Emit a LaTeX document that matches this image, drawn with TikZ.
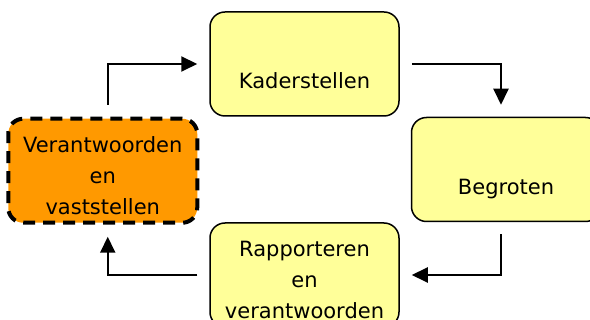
\documentclass[tikz,border=0pt]{standalone}
\usepackage{fontspec}
\setmainfont{DejaVu Sans}
\usetikzlibrary{positioning, arrows.meta}
\definecolor{lichtgeel}{HTML}{FFFF99}
\definecolor{oranje}{HTML}{FF9900}
\begin{document}
\begin{tikzpicture}[x=1pt, y=-1pt,
        stap/.style={draw, line width=1.5pt, fill=lichtgeel, rounded corners=15pt, minimum width=189pt, minimum height=104pt, inner sep=0pt, align=center, font=\fontsize{21}{31}\selectfont},
        actief/.style={stap, fill=oranje, line width=4pt, dash pattern=on 12pt off 8pt},
        pijl/.style={line width=2pt, -{Triangle[length=16pt, width=15pt]}, shorten <=12pt, shorten >=12pt}]
        \useasboundingbox (0,0) rectangle (590,320);
        \clip (0,0) rectangle (590,320);
        \node[stap, text height=50pt, text depth=0pt] (kader) at (304.5,64) {Kaderstellen};
        \node[stap, text height=50pt, text depth=0pt, below right=0pt and 11pt of kader.south east, anchor=north west] (begroten) {Begroten};
        \node[stap, text height=87pt, text depth=0pt, below left=0pt and 11pt of begroten.south west, anchor=north east] (rapporteren) {Rapporteren\\en\\verantwoorden};
        \node[actief, text height=87pt, text depth=0pt, below left=0pt and 10pt of kader.south west, anchor=north east] (verantwoorden) {Verantwoorden\\en\\vaststellen};
        \draw[pijl] ([xshift=5pt]verantwoorden.north) |- (kader);
        \draw[pijl] (kader) -| ([xshift=-5pt]begroten.north);
        \draw[pijl] ([xshift=-5pt]begroten.south) |- (rapporteren);
        \draw[pijl] (rapporteren) -| ([xshift=5pt]verantwoorden.south);
    \end{tikzpicture}
\end{document}
